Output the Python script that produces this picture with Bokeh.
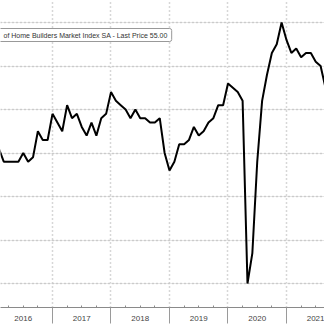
from bokeh.plotting import figure
from bokeh.models import FixedTicker, Range1d, Label, Grid
from bokeh.embed import file_html
from bokeh.resources import INLINE

# NAHB Housing Market Index SA (monthly, plotted at month end)
hmi_2015_dec = [62]
hmi_2016 = [61, 58, 58, 58, 58, 60, 58, 59, 65, 63, 63, 69]
hmi_2017 = [67, 65, 71, 68, 69, 66, 64, 67, 64, 68, 69, 74]
hmi_2018 = [72, 71, 70, 68, 70, 68, 68, 67, 67, 68, 60, 56]
hmi_2019 = [58, 62, 62, 63, 66, 64, 65, 67, 68, 71, 71, 76]
hmi_2020 = [75, 74, 72, 30, 37, 58, 72, 78, 83, 85, 90, 86]
hmi_2021 = [83, 84, 82, 83, 83, 81, 80, 75, 76]

year_labels = ["2016", "2017", "2018", "2019", "2020", "2021"]
y_grid_values = [30, 40, 50, 60, 70, 80, 90]
legend_text = "of Home Builders Market Index SA - Last Price 55.00"

xs, ys = [], []
xs.append(2016.0)
ys.extend(hmi_2015_dec)
for yr, vals in zip([2016, 2017, 2018, 2019, 2020, 2021],
                    [hmi_2016, hmi_2017, hmi_2018, hmi_2019, hmi_2020, hmi_2021]):
    for m, v in enumerate(vals, start=1):
        xs.append(yr + m / 12.0)
        ys.append(v)

label_years = [int(s) for s in year_labels]
boundaries = [y for y in range(2016, 2023)]
quarters = []
overrides = {}
for y in label_years:
    for q in (0.25, 0.5, 0.75):
        quarters.append(y + q)
        overrides[y + q] = ""
    overrides[y + 0.5] = str(y)

FRAME_H = 307
y_top = 95.06
y_bottom = y_top - FRAME_H / 4.35

p = figure(width=324, height=324, output_backend="svg", toolbar_location=None,
           x_range=Range1d(2016.111, 2021.65), y_range=Range1d(y_bottom, y_top),
           y_axis_location=None, min_border_left=0, min_border_right=0,
           min_border_top=0, min_border_bottom=17)
p.outline_line_color = None
p.background_fill_color = "white"
p.border_fill_color = "white"

ax = p.xaxis[0]
ax.ticker = FixedTicker(ticks=quarters, minor_ticks=boundaries)
ax.major_label_overrides = overrides
ax.major_tick_in = 2
ax.major_tick_out = 0
ax.minor_tick_in = 0
ax.minor_tick_out = 16
ax.axis_line_color = "#8a8a8a"
ax.major_tick_line_color = "#8a8a8a"
ax.minor_tick_line_color = "#9a9a9a"
ax.major_label_text_font = "Liberation Sans"
ax.major_label_text_font_size = "8px"
ax.major_label_text_color = "#444444"
ax.major_label_standoff = -8

p.xgrid.ticker = FixedTicker(ticks=boundaries)
p.xgrid.grid_line_color = "#b0b0b0"
p.xgrid.grid_line_dash = "1 3"
p.xgrid.grid_line_width = 1.5

yg = Grid(dimension=1, ticker=FixedTicker(ticks=y_grid_values),
          grid_line_color="#b0b0b0", grid_line_dash="1 3", grid_line_width=1.5)
p.add_layout(yg)

p.line(xs, ys, line_color="black", line_width=2)

lab = Label(x=-5, y=FRAME_H - 34.5, x_units="screen", y_units="screen", text=legend_text,
            text_font="Liberation Sans", text_font_size="7px", text_color="#333333",
            text_baseline="middle", text_align="left",
            background_fill_color="white", border_line_color="#999999",
            border_line_width=1,
            padding=dict(left=8, right=4, top=3, bottom=3), border_radius=2)
p.add_layout(lab)

open("out.html", "w").write(file_html(p, INLINE))
